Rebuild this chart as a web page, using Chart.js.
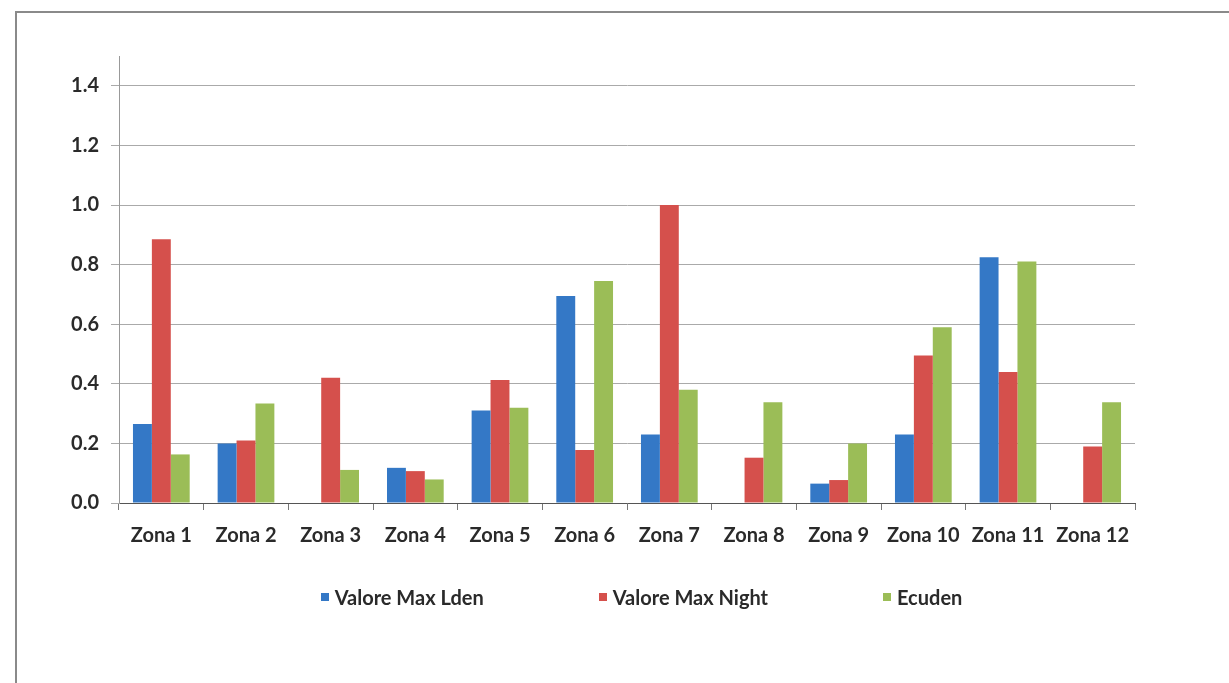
<!DOCTYPE html>
<html>
<head>
<meta charset="utf-8">
<script src="https://cdn.jsdelivr.net/npm/chart.js@4"></script>
<style>
  html, body { margin: 0; padding: 0; background: #fff; }
  #wrap { position: relative; width: 1229px; height: 683px; overflow: hidden; }
  #frame { position: absolute; left: 15px; top: 11px; width: 1300px; height: 800px;
           border-top: 2px solid #8a8a8a; border-left: 2px solid #8a8a8a; }
  canvas { position: absolute; left: 0; top: 0; }
  #legend { position: absolute; left: 0; top: 585px; width: 1283px; margin: 0; padding: 0;
            list-style: none; display: flex; justify-content: center; gap: 115px;
            font: bold 20px Lato, "Open Sans", sans-serif; color: #2a2a2a; }
  #legend li { display: flex; align-items: center; white-space: nowrap; }
  #legend span { display: inline-block; width: 8px; height: 8px; margin-right: 6px; }
</style>
</head>
<body>
<div id="wrap">
  <div id="frame"></div>
  <canvas id="chart" width="1229" height="683"></canvas>
  <ul id="legend"></ul>
</div>
<script>
// categories and series
var zones = ['Zona 1', 'Zona 2', 'Zona 3', 'Zona 4', 'Zona 5', 'Zona 6',
             'Zona 7', 'Zona 8', 'Zona 9', 'Zona 10', 'Zona 11', 'Zona 12'];
var maxLden = [0.265, 0.20, null, 0.118, 0.31, 0.695, 0.23, null, 0.065, 0.23, 0.825, null];
var maxNight = [0.885, 0.21, 0.42, 0.107, 0.413, 0.178, 1.0, 0.152, 0.077, 0.495, 0.44, 0.19];
var ecuden = [0.163, 0.334, 0.111, 0.079, 0.32, 0.745, 0.38, 0.338, 0.2, 0.59, 0.81, 0.338];
var yTicks = [0, 0.2, 0.4, 0.6, 0.8, 1.0, 1.2, 1.4];

var textFont = { family: 'Lato, "Open Sans", sans-serif', size: 20, weight: 'bold' };

// legend built as html so the items can sit far apart like the original
var htmlLegend = {
  id: 'htmlLegend',
  afterUpdate: function(chart) {
    var ul = document.getElementById('legend');
    ul.innerHTML = '';
    var items = chart.options.plugins.legend.labels.generateLabels(chart);
    items.forEach(function(item) {
      var li = document.createElement('li');
      var box = document.createElement('span');
      box.style.background = item.fillStyle;
      li.appendChild(box);
      li.appendChild(document.createTextNode(item.text));
      ul.appendChild(li);
    });
  }
};

function renderChart() {
  var ctx = document.getElementById('chart').getContext('2d');
  new Chart(ctx, {
    type: 'bar',
    data: {
      labels: zones,
      datasets: [
        { label: 'Valore Max Lden', data: maxLden, backgroundColor: '#3478c6' },
        { label: 'Valore Max Night', data: maxNight, backgroundColor: '#d5504c' },
        { label: 'Ecuden', data: ecuden, backgroundColor: '#9bbd57' }
      ]
    },
    options: {
      responsive: false,
      animation: false,
      layout: { padding: { left: 0, right: 94, top: 56, bottom: 121 } },
      datasets: { bar: { barPercentage: 1.0, categoryPercentage: 0.67 } },
      plugins: {
        tooltip: { enabled: false },
        legend: { display: false }
      },
      scales: {
        x: {
          grid: { offset: true, drawOnChartArea: false, tickLength: 7, color: '#777' },
          border: { color: '#555' },
          ticks: { color: '#2a2a2a', font: textFont, padding: 14 }
        },
        y: {
          min: 0,
          max: 1.5,
          afterBuildTicks: function(scale) {
            scale.ticks = yTicks.map(function(v) { return { value: v }; });
          },
          afterFit: function(scale) { scale.width = 119; },
          grid: { color: '#aaa', tickLength: 8 },
          border: { color: '#999' },
          ticks: {
            color: '#2a2a2a',
            font: textFont,
            padding: 12,
            callback: function(v) { return Number(v).toFixed(1); }
          }
        }
      }
    },
    plugins: [htmlLegend]
  });
}

renderChart();
</script>
</body>
</html>
